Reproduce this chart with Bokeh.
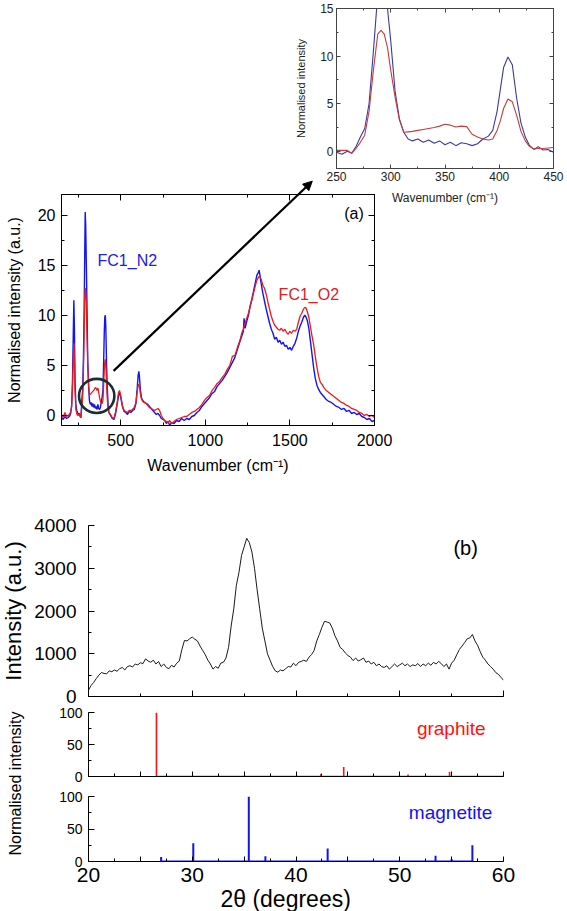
from bokeh.plotting import figure
from bokeh.models import (Range1d, LinearAxis, SingleIntervalTicker, Label, Arrow,
                          NormalHead, Column)
from bokeh.embed import file_html
from bokeh.resources import INLINE

FONT = "Liberation Sans"

# ---------------- data: Raman spectra (panel a) ----------------
raman_x = [
    150, 160, 170, 180, 190, 200, 205, 210, 215, 220,
    223, 226, 230, 235, 240, 245, 250, 255, 260, 265,
    270, 275, 280, 284, 287, 290, 293, 296, 300, 305,
    310, 315, 320, 325, 330, 335, 340, 345, 350, 355,
    360, 365, 370, 375, 380, 385, 390, 395, 400, 403,
    406, 409, 412, 416, 420, 425, 430, 440, 450, 460,
    470, 480, 487, 493, 500, 510, 520, 530, 540, 550,
    560, 570, 580, 590, 597, 603, 607, 611, 616, 622,
    630, 640, 650, 660, 670, 680, 690, 700, 710, 720,
    730, 740, 750, 760, 770, 780, 790, 800, 815, 830,
    845, 860, 875, 890, 905, 920, 935, 950, 965, 980,
    995, 1010, 1025, 1040, 1055, 1070, 1085, 1100, 1115, 1130,
    1145, 1160, 1175, 1190, 1205, 1215, 1225, 1229, 1235, 1245,
    1255, 1265, 1275, 1285, 1295, 1305, 1312, 1318, 1324, 1330,
    1340, 1350, 1360, 1370, 1380, 1390, 1400, 1410, 1420, 1430,
    1440, 1450, 1460, 1470, 1480, 1490, 1500, 1510, 1520, 1530,
    1540, 1550, 1560, 1570, 1580, 1588, 1596, 1604, 1612, 1620,
    1630, 1640, 1650, 1660, 1670, 1680, 1690, 1700, 1715, 1730,
    1745, 1760, 1775, 1790, 1805, 1820, 1835, 1850, 1865, 1880,
    1895, 1910, 1925, 1940, 1955, 1970, 1985, 2000]

raman_n2 = [
    -0.2, -0.4, -0.1, -0.3, -0.2, 0.0, 0.3, 1.0, 3.5, 8.5,
    11.5, 9.0, 3.5, 1.0, 0.5, 0.3, 0.1, 0.2, -0.1, -0.2,
    1.5, 2.5, 6.0, 10.5, 15.5, 20.3, 19.0, 16.0, 11.6, 5.5,
    3.0, 1.5, 1.1, 1.3, 0.9, 1.2, 0.8, 1.1, 0.7, 0.9,
    0.6, 1.1, 0.7, 0.6, 0.8, 1.4, 1.8, 2.5, 6.0, 8.4,
    9.8, 10.0, 8.8, 5.3, 3.0, 1.2, 0.3, 0.0, -0.3, -0.4,
    0.2, 1.2, 2.0, 2.3, 1.8, 0.9, 0.4, 0.3, 0.1, 0.4,
    0.3, 0.5, 0.6, 1.2, 2.6, 4.0, 4.4, 3.8, 2.6, 1.8,
    1.5, 1.3, 1.2, 1.1, 0.9, 0.7, 0.5, 0.3, 0.1, 0.2,
    0.0, -0.3, -0.4, -0.5, -0.8, -0.6, -1.0, -0.7, -0.8, -0.5,
    -0.6, -0.3, -0.5, -0.3, -0.4, -0.1, 0.0, 0.3, 0.5, 0.9,
    1.2, 1.5, 1.8, 2.2, 2.4, 2.9, 3.2, 3.5, 3.9, 4.3,
    4.8, 5.3, 5.8, 6.6, 7.4, 7.9, 8.4, 9.7, 8.7, 9.4,
    10.0, 10.9, 11.6, 12.4, 13.2, 14.0, 14.2, 14.5, 13.9, 13.2,
    12.2, 11.4, 10.6, 9.9, 9.2, 8.6, 8.2, 7.6, 7.8, 7.3,
    7.5, 7.1, 7.3, 6.9, 7.0, 6.6, 6.8, 6.5, 6.9, 7.2,
    7.7, 8.4, 8.9, 9.3, 9.8, 10.0, 9.8, 9.4, 8.7, 7.6,
    6.2, 4.8, 3.7, 3.0, 2.6, 2.3, 2.1, 1.9, 1.6, 1.4,
    1.3, 1.1, 0.9, 0.8, 0.6, 0.7, 0.4, 0.5, 0.2, 0.3,
    0.1, 0.2, -0.1, -0.2, -0.4, -0.3, -0.6, -0.5]

raman_o2 = [
    0.1, -0.2, 0.3, -0.1, 0.0, 0.2, 0.4, 0.9, 2.6, 5.8,
    7.2, 6.0, 2.4, 0.6, 0.2, 0.0, 0.1, 0.0, 0.1, -0.2,
    0.9, 1.8, 4.6, 8.5, 11.8, 12.7, 12.4, 11.2, 8.5, 5.2,
    3.0, 2.1, 2.1, 2.2, 2.3, 2.4, 2.5, 2.6, 2.8, 2.7,
    2.5, 2.75, 2.3, 1.8, 1.4, 1.2, 1.2, 1.5, 3.4, 4.6,
    5.4, 5.6, 5.1, 3.3, 1.8, 0.7, 0.3, 0.1, -0.2, -0.3,
    0.4, 1.4, 2.3, 2.5, 2.0, 1.0, 0.5, 0.4, 0.3, 0.5,
    0.5, 0.6, 0.8, 1.3, 2.3, 3.0, 3.1, 2.9, 2.2, 1.7,
    1.4, 1.3, 1.2, 1.0, 0.8, 0.7, 0.6, 0.5, 0.6, 0.7,
    0.5, 0.0, -0.3, -0.5, -0.6, -0.7, -0.5, -0.8, -0.6, -0.4,
    -0.3, -0.2, -0.1, -0.1, 0.1, 0.3, 0.4, 0.6, 0.8, 1.1,
    1.5, 1.8, 2.0, 2.5, 2.8, 3.2, 3.4, 3.8, 4.1, 4.6,
    5.0, 5.9, 6.0, 6.8, 7.5, 8.2, 8.6, 8.9, 9.2, 9.7,
    10.2, 10.9, 11.5, 12.2, 12.9, 13.5, 13.7, 13.9, 13.8, 13.6,
    13.0, 12.7, 12.1, 11.3, 10.6, 9.9, 9.4, 9.0, 8.8, 8.6,
    8.5, 8.7, 8.4, 8.6, 8.3, 8.1, 8.4, 8.2, 8.5, 8.4,
    8.6, 9.3, 9.9, 10.2, 10.6, 10.8, 10.7, 10.3, 9.8, 9.0,
    8.0, 7.1, 5.9, 4.8, 3.9, 3.3, 3.1, 2.8, 2.5, 2.3,
    2.1, 1.9, 1.7, 1.5, 1.3, 1.2, 1.0, 0.9, 0.7, 0.6,
    0.5, 0.3, 0.2, 0.0, 0.1, -0.1, 0.0, -0.2]

# ---------------- data: inset (smoothed, 250-450 cm-1) ----------------
inset_x = [250, 255, 260, 264, 268, 272, 276, 280, 284, 288,
           291, 294, 297, 300, 304, 308, 312, 316, 320, 325,
           330, 335, 340, 345, 350, 355, 360, 365, 370, 375,
           380, 385, 390, 394, 398, 401, 404, 408, 412, 416,
           420, 424, 428, 432, 436, 440, 445, 450]
inset_n2 = [-0.1, -0.3, 0.0, -0.2, 0.5, 1.5, 2.4, 5.0, 10.5, 16.5,
            20.0, 19.0, 15.0, 11.6, 6.3, 3.4, 2.0, 1.3, 1.1, 1.3,
            0.95, 1.2, 0.85, 1.1, 0.7, 0.95, 0.6, 0.9, 0.8, 0.6,
            0.8, 1.3, 1.6, 2.2, 4.2, 6.5, 8.8, 9.9, 9.1, 5.6,
            3.0, 1.5, 0.6, 0.2, 0.5, 0.15, 0.2, -0.1]
inset_o2 = [0.1, 0.1, 0.1, -0.2, 0.3, 0.95, 1.7, 4.2, 8.5, 12.3,
            12.7, 12.3, 10.9, 8.5, 5.7, 3.3, 2.0, 2.05, 2.1, 2.2,
            2.3, 2.4, 2.5, 2.65, 2.85, 2.75, 2.55, 2.65, 2.6, 1.8,
            1.5, 1.3, 1.2, 1.3, 2.2, 3.2, 4.5, 5.5, 5.2, 3.8,
            2.1, 1.1, 0.5, 0.25, 0.3, 0.3, 0.35, 0.4]

# ---------------- data: XRD pattern (panel b) ----------------
xrd_2theta = [
    20.0, 20.25, 20.5, 20.75, 21.0, 21.25, 21.5, 21.75,
    22.0, 22.25, 22.5, 22.75, 23.0, 23.25, 23.5, 23.75,
    24.0, 24.25, 24.5, 24.75, 25.0, 25.25, 25.5, 25.75,
    26.0, 26.25, 26.5, 26.75, 27.0, 27.25, 27.5, 27.75,
    28.0, 28.25, 28.5, 28.75, 29.0, 29.25, 29.5, 29.75,
    30.0, 30.25, 30.5, 30.75, 31.0, 31.25, 31.5, 31.75,
    32.0, 32.25, 32.5, 32.75, 33.0, 33.25, 33.5, 33.75,
    34.0, 34.25, 34.5, 34.75, 35.0, 35.25, 35.5, 35.75,
    36.0, 36.25, 36.5, 36.75, 37.0, 37.25, 37.5, 37.75,
    38.0, 38.25, 38.5, 38.75, 39.0, 39.25, 39.5, 39.75,
    40.0, 40.25, 40.5, 40.75, 41.0, 41.25, 41.5, 41.75,
    42.0, 42.25, 42.5, 42.75, 43.0, 43.25, 43.5, 43.75,
    44.0, 44.25, 44.5, 44.75, 45.0, 45.25, 45.5, 45.75,
    46.0, 46.25, 46.5, 46.75, 47.0, 47.25, 47.5, 47.75,
    48.0, 48.25, 48.5, 48.75, 49.0, 49.25, 49.5, 49.75,
    50.0, 50.25, 50.5, 50.75, 51.0, 51.25, 51.5, 51.75,
    52.0, 52.25, 52.5, 52.75, 53.0, 53.25, 53.5, 53.75,
    54.0, 54.25, 54.5, 54.75, 55.0, 55.25, 55.5, 55.75,
    56.0, 56.25, 56.5, 56.75, 57.0, 57.25, 57.5, 57.75,
    58.0, 58.25, 58.5, 58.75, 59.0, 59.25, 59.5, 59.75,
    60.0]
xrd_counts = [
    150, 260, 330, 420, 500, 560, 540, 530,
    600, 580, 620, 590, 650, 680, 620, 700,
    720, 690, 760, 740, 790, 770, 880, 830,
    800, 850, 760, 820, 700, 760, 680, 650,
    730, 690, 780, 830, 1100, 1310, 1300, 1350,
    1390, 1340, 1300, 1180, 1080, 980, 850, 760,
    640, 700, 660, 780, 800, 900, 1150, 1650,
    2050, 2600, 2900, 3300, 3500, 3700, 3600, 3380,
    3000, 2500, 2050, 1600, 1300, 1000, 850, 700,
    600, 570, 620, 600, 650, 700, 690, 780,
    720, 800, 820, 850, 820, 920, 980, 1080,
    1300, 1450, 1620, 1760, 1740, 1720, 1600, 1420,
    1300, 1150, 1100, 1020, 960, 920, 840, 900,
    830, 860, 900, 800, 830, 760, 800, 720,
    760, 700, 680, 720, 640, 700, 760, 700,
    740, 780, 720, 760, 700, 740, 720, 770,
    700, 760, 720, 780, 730, 800, 760, 820,
    770, 700, 760, 640, 780, 850, 980, 1100,
    1180, 1260, 1350, 1370, 1450, 1300, 1200, 1050,
    920, 850, 760, 700, 640, 560, 520, 450,
    380]

graphite_2theta = [26.55, 42.4, 44.6, 50.8, 54.8, 59.9]
graphite_int = [100, 4, 15, 3, 7, 1]
magnetite_2theta = [27.0, 30.1, 35.45, 37.05, 43.05, 53.45, 55.0, 57.0]
magnetite_int = [7, 28, 100, 8, 20, 9, 4, 25]

# ---------------- annotation positions ----------------
circle_x, circle_y, circle_w, circle_h = 358, 1.95, 209, 3.4
arrow_start = (458, 4.45)
arrow_end = (1632, 23.38)


# ---------------- helpers ----------------
def make_fig(cl, ct, fl, ft, fw, fh, cr, cb, xr, yr):
    """cl/ct/cr/cb: canvas box in page px; fl/ft/fw/fh: frame box in page px."""
    p = figure(frame_width=fw, frame_height=fh,
               min_border_left=fl - cl, min_border_top=ft - ct,
               min_border_right=cr - (fl + fw), min_border_bottom=cb - (ft + fh),
               x_range=xr, y_range=yr, x_axis_type=None, y_axis_type=None,
               output_backend="svg", toolbar_location=None,
               background_fill_color=None, border_fill_color=None,
               outline_line_color=None, frame_align=False)
    p.styles = {"position": "absolute", "left": f"{cl}px", "top": f"{ct}px"}
    return p


def add_axis(p, side, ticker, color="black", lab_size=None, lab_color="black",
             standoff=5, title=None, title_size="16px", title_standoff=10,
             tick_in=6, minor_in=3, overrides=None):
    ax = LinearAxis(ticker=ticker, axis_line_color=color,
                    major_tick_line_color=color, minor_tick_line_color=color,
                    major_tick_in=tick_in, major_tick_out=0,
                    minor_tick_in=minor_in, minor_tick_out=0)
    if lab_size is None:
        # tick marks only: the labels are not painted
        ax.major_label_text_font_size = "8px"
        ax.major_label_text_color = None
        ax.major_label_standoff = 0
    else:
        ax.major_label_text_font_size = lab_size
        ax.major_label_text_font = FONT
        ax.major_label_text_color = lab_color
        ax.major_label_standoff = standoff
    if title:
        ax.axis_label = title
        ax.axis_label_text_font = FONT
        ax.axis_label_text_font_size = title_size
        ax.axis_label_text_font_style = "normal"
        ax.axis_label_text_color = lab_color
        ax.axis_label_standoff = title_standoff
    if overrides:
        ax.major_label_overrides = overrides
    p.add_layout(ax, side)
    return ax


# ---------------- inset ----------------
pi = make_fig(220, -22, 336, 8, 217, 160, 566, 212, Range1d(250, 450), Range1d(-1.8, 15))
pi.outline_line_color = "#444444"
tx_i = SingleIntervalTicker(interval=50, num_minor_ticks=2)
ty_i = SingleIntervalTicker(interval=5, num_minor_ticks=2)
add_axis(pi, "below", tx_i, color="#444444", lab_size="12px", lab_color="#222222", standoff=3,
         title="Wavenumber (cm\u207b\u00b9)", title_size="12px", title_standoff=7,
         tick_in=4, minor_in=2)
add_axis(pi, "left", ty_i, color="#444444", lab_size="12px", lab_color="#222222", standoff=3,
         title="Normalised intensity", title_size="11px", title_standoff=10,
         tick_in=4, minor_in=2)
add_axis(pi, "above", tx_i, color="#444444", tick_in=4, minor_in=2)
add_axis(pi, "right", ty_i, color="#444444", tick_in=4, minor_in=2)
pi.line(inset_x, inset_n2, line_color="#3a3aa8", line_width=1.1)
pi.line(inset_x, inset_o2, line_color="#c43c3c", line_width=1.1)

# ---------------- main Raman panel (a) ----------------
xr_a = Range1d(150, 2000)
yr_a = Range1d(-1, 22.05)
pa = make_fig(-40, 150, 61, 194, 313, 231, 392, 485, xr_a, yr_a)
pa.outline_line_color = "black"
tx_a = SingleIntervalTicker(interval=500, num_minor_ticks=2)
ty_a = SingleIntervalTicker(interval=5, num_minor_ticks=2)
add_axis(pa, "below", tx_a, lab_size="16px", standoff=8,
         title="Wavenumber (cm\u207b\u00b9)", title_size="16px", title_standoff=8)
add_axis(pa, "left", ty_a, lab_size="16px", standoff=6,
         title="Normalised intensity (a.u.)", title_size="16px", title_standoff=12)
add_axis(pa, "above", tx_a)
add_axis(pa, "right", ty_a)
pa.line(raman_x, raman_n2, line_color="#1414f0", line_width=1.4)
pa.line(raman_x, raman_o2, line_color="#e81c1c", line_width=1.3)
pa.ellipse(x=[circle_x], y=[circle_y], width=[circle_w], height=[circle_h],
           fill_color=None, line_color="#183030", line_width=2.6)
pa.add_layout(Label(x=539, y=15.5, text="FC1_N2", text_font=FONT, text_font_size="16px",
                    text_color="#2020e0", text_align="center", text_baseline="middle"))
pa.add_layout(Label(x=1612, y=12.1, text="FC1_O2", text_font=FONT, text_font_size="16px",
                    text_color="#e02020", text_align="center", text_baseline="middle"))
pa.add_layout(Label(x=1879, y=20.2, text="(a)", text_font=FONT, text_font_size="16px",
                    text_color="black", text_align="center", text_baseline="middle"))

# ---------------- transparent overlay carrying the zoom arrow ----------------
ov_h = 255
ov_top = yr_a.start + ov_h * (yr_a.end - yr_a.start) / 231
po = make_fig(61, 425 - ov_h, 61, 425 - ov_h, 313, ov_h, 374, 425, xr_a,
              Range1d(yr_a.start, ov_top))
po.add_layout(Arrow(end=NormalHead(size=9, fill_color="black", line_color="black"),
                    x_start=arrow_start[0], y_start=arrow_start[1],
                    x_end=arrow_end[0], y_end=arrow_end[1],
                    line_color="black", line_width=2.2))

# ---------------- XRD panel (b) ----------------
xr_b = Range1d(20, 60)
pb1 = make_fig(-20, 505, 88, 525, 415, 171, 520, 712, xr_b, Range1d(0, 4000))
add_axis(pb1, "left", SingleIntervalTicker(interval=1000, num_minor_ticks=2),
         lab_size="19px", standoff=12, title="Intensity (a.u.)", title_size="22px",
         title_standoff=5)
add_axis(pb1, "below", SingleIntervalTicker(interval=10, num_minor_ticks=2))
pb1.line(xrd_2theta, xrd_counts, line_color="#1a1a1a", line_width=1.0)
pb1.add_layout(Label(x=56.35, y=3485, text="(b)", text_font=FONT, text_font_size="20px",
                     text_color="black", text_align="center", text_baseline="middle"))


def sticks(xs, hs):
    px, py = [], []
    for x, h in zip(xs, hs):
        px += [x, x, x]
        py += [0, h, 0]
    return px, py


pb2 = make_fig(-20, 700, 88, 712, 415, 64, 520, 790, xr_b, Range1d(0, 100))
add_axis(pb2, "left", SingleIntervalTicker(interval=50, num_minor_ticks=2),
         lab_size="14px", standoff=6)
add_axis(pb2, "below", SingleIntervalTicker(interval=5, num_minor_ticks=2),
         tick_in=5, minor_in=3)
gx, gy = sticks(graphite_2theta, graphite_int)
pb2.line(gx, gy, line_color="#ff1010", line_width=1.6)
pb2.add_layout(Label(x=54.96, y=75, text="graphite", text_font=FONT, text_font_size="19px",
                     text_color="#ff1010", text_align="center", text_baseline="middle"))

pb3 = make_fig(-20, 785, 88, 796, 415, 65, 520, 884, xr_b, Range1d(0, 100))
add_axis(pb3, "left", SingleIntervalTicker(interval=50, num_minor_ticks=2),
         lab_size="14px", standoff=6)
add_axis(pb3, "below", SingleIntervalTicker(interval=5, num_minor_ticks=2),
         lab_size="21px", standoff=6, tick_in=5, minor_in=3,
         overrides={25: "", 35: "", 45: "", 55: ""})
mx, my = sticks(magnetite_2theta, magnetite_int)
pb3.line(mx, my, line_color="#1010ff", line_width=2.0)
pb3.add_layout(Label(x=54.9, y=75.8, text="magnetite", text_font=FONT, text_font_size="19px",
                     text_color="#1010ff", text_align="center", text_baseline="middle"))

# x title of the XRD panels, in its own strip under the bottom axis
pt = make_fig(88, 885, 88, 885, 415, 26, 503, 911, xr_b, Range1d(0, 1))
pt.add_layout(Label(x=39.0, y=0.5, text="2\u03b8 (degrees)", text_font=FONT,
                    text_font_size="23px", text_color="black", text_align="center",
                    text_baseline="middle"))

# shared y title for the two reference-pattern panels
pl = make_fig(2, 700, 2, 700, 26, 166, 28, 866, Range1d(0, 1), Range1d(0, 1))
pl.add_layout(Label(x=0.5, y=0.5, text="Normalised intensity", text_font=FONT,
                    text_font_size="16px", text_color="black", angle=1.5708,
                    text_align="center", text_baseline="middle"))

root = Column(children=[pi, pa, po, pb1, pb2, pb3, pt, pl], width=540, height=880,
              sizing_mode="fixed", styles={"position": "relative"})

open("out.html", "w").write(file_html(root, INLINE))
